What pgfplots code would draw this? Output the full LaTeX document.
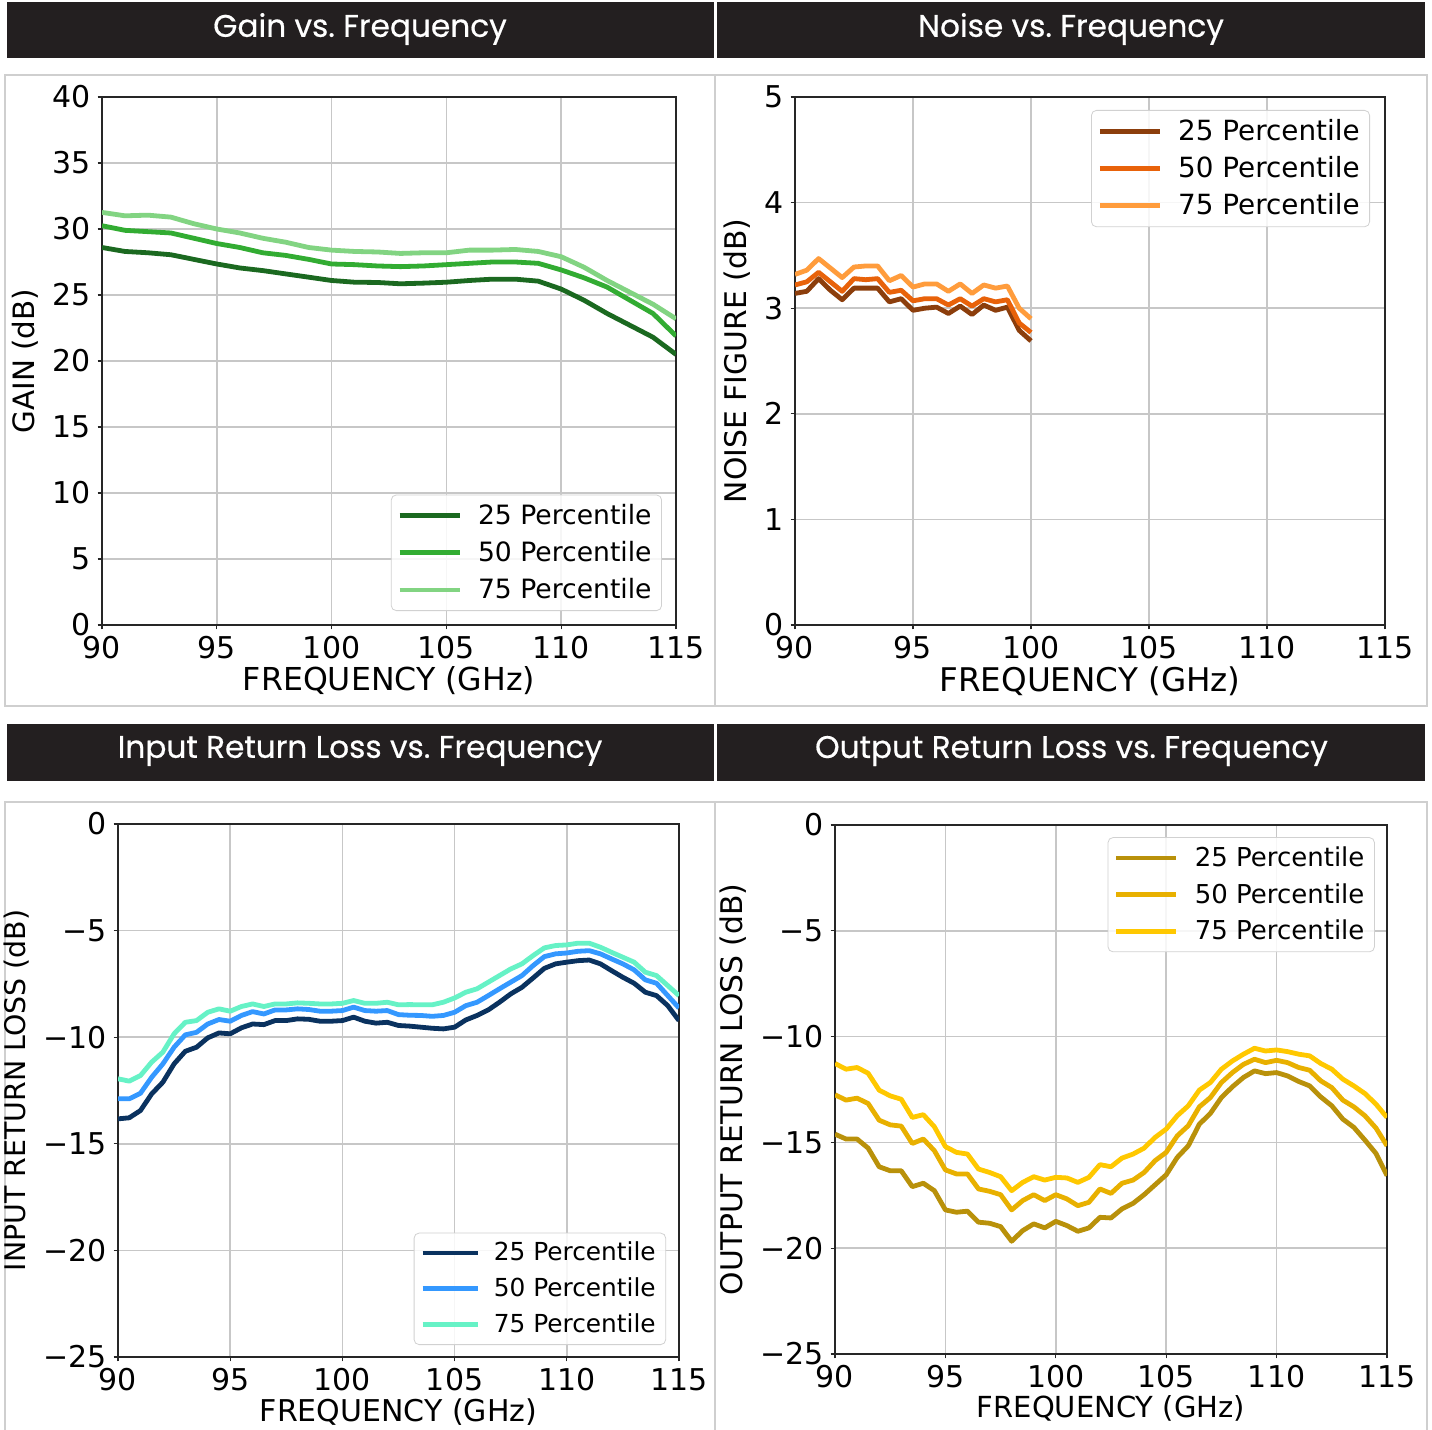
\documentclass[border=0pt]{standalone}
\usepackage{fontspec}
\setmainfont{DejaVu Sans}
\newfontfamily\titlefont{Poppins}[FakeBold=0.5]
\usepackage{pgfplots}
\usepackage{pgfplotstable}
\pgfplotsset{compat=1.18}

\definecolor{titlebg}{HTML}{231F20}
\definecolor{framegray}{HTML}{CFCFCF}
% gain
\definecolor{ga}{RGB}{27,105,32}
\definecolor{gb}{RGB}{50,172,50}
\definecolor{gc}{RGB}{130,212,130}
% noise
\definecolor{na}{RGB}{140,62,12}
\definecolor{nb}{RGB}{232,98,10}
\definecolor{nc}{RGB}{255,156,60}
% input return loss
\definecolor{ia}{RGB}{10,50,95}
\definecolor{ib}{RGB}{52,152,255}
\definecolor{ic}{RGB}{102,242,198}
% output return loss
\definecolor{oa}{RGB}{185,145,10}
\definecolor{ob}{RGB}{232,176,0}
\definecolor{oc}{RGB}{255,200,0}

\pgfplotstableread{
f p25 p50 p75
90 28.6 30.25 31.26
91 28.3 29.9 31.0
92 28.2 29.8 31.05
93 28.05 29.7 30.9
94 27.7 29.3 30.4
95 27.35 28.9 30.0
96 27.05 28.6 29.7
97 26.85 28.2 29.3
98 26.6 28.0 29.0
99 26.35 27.7 28.6
100 26.1 27.35 28.4
101 25.97 27.3 28.3
102 25.95 27.2 28.26
103 25.85 27.15 28.15
104 25.9 27.2 28.2
105 25.97 27.3 28.2
106 26.1 27.4 28.4
107 26.2 27.5 28.4
108 26.2 27.5 28.45
109 26.05 27.4 28.3
110 25.45 26.9 27.9
111 24.6 26.3 27.1
112 23.6 25.6 26.1
113 22.7 24.6 25.2
114 21.8 23.6 24.3
115 20.5 21.9 23.2
}\gaintab

\pgfplotstableread{
f p25 p50 p75
90 3.14 3.22 3.32
90.5 3.16 3.25 3.36
91 3.28 3.34 3.47
91.5 3.17 3.25 3.38
92 3.08 3.16 3.29
92.5 3.19 3.28 3.39
93 3.19 3.27 3.40
93.5 3.19 3.28 3.40
94 3.06 3.15 3.26
94.5 3.09 3.17 3.31
95 2.98 3.07 3.20
95.5 3.00 3.09 3.23
96 3.01 3.09 3.23
96.5 2.95 3.03 3.16
97 3.02 3.09 3.23
97.5 2.94 3.02 3.14
98 3.03 3.09 3.22
98.5 2.98 3.06 3.19
99 3.01 3.08 3.21
99.5 2.79 2.86 3.00
100 2.69 2.77 2.90
}\noisetab

\pgfplotstableread{
f p25 p50 p75
90 -13.83 -12.89 -11.95
90.5 -13.78 -12.89 -12.06
91 -13.44 -12.63 -11.80
91.5 -12.66 -11.88 -11.17
92 -12.11 -11.25 -10.70
92.5 -11.25 -10.47 -9.84
93 -10.66 -9.89 -9.30
93.5 -10.47 -9.77 -9.22
94 -10.03 -9.38 -8.83
94.5 -9.80 -9.17 -8.67
95 -9.84 -9.25 -8.78
95.5 -9.56 -8.98 -8.56
96 -9.38 -8.80 -8.44
96.5 -9.41 -8.91 -8.56
97 -9.22 -8.72 -8.44
97.5 -9.22 -8.72 -8.44
98 -9.14 -8.67 -8.39
98.5 -9.16 -8.70 -8.41
99 -9.25 -8.78 -8.44
99.5 -9.25 -8.78 -8.44
100 -9.22 -8.75 -8.41
100.5 -9.06 -8.59 -8.28
101 -9.25 -8.75 -8.41
101.5 -9.34 -8.78 -8.41
102 -9.30 -8.75 -8.36
102.5 -9.45 -8.94 -8.48
103 -9.48 -8.97 -8.47
103.5 -9.53 -8.98 -8.48
104 -9.58 -9.02 -8.48
104.5 -9.61 -8.98 -8.36
105 -9.53 -8.83 -8.16
105.5 -9.19 -8.52 -7.89
106 -8.98 -8.36 -7.73
106.5 -8.72 -8.05 -7.42
107 -8.36 -7.73 -7.11
107.5 -7.97 -7.42 -6.80
108 -7.66 -7.11 -6.56
108.5 -7.22 -6.64 -6.17
109 -6.77 -6.22 -5.81
109.5 -6.56 -6.09 -5.70
110 -6.48 -6.05 -5.67
110.5 -6.41 -5.97 -5.59
111 -6.38 -5.94 -5.59
111.5 -6.56 -6.09 -5.78
112 -6.88 -6.33 -6.02
112.5 -7.19 -6.56 -6.25
113 -7.47 -6.84 -6.48
113.5 -7.89 -7.31 -6.95
114 -8.05 -7.47 -7.11
114.5 -8.52 -8.05 -7.58
115 -9.22 -8.63 -8.05
}\inputtab

\pgfplotstableread{
f p25 p50 p75
90 -14.61 -12.75 -11.27
90.5 -14.84 -13.00 -11.54
91 -14.84 -12.91 -11.46
91.5 -15.27 -13.16 -11.73
92 -16.15 -13.95 -12.53
92.5 -16.34 -14.17 -12.80
93 -16.34 -14.23 -12.96
93.5 -17.09 -15.05 -13.82
94 -16.93 -14.84 -13.69
94.5 -17.28 -15.39 -14.26
95 -18.19 -16.30 -15.20
95.5 -18.30 -16.49 -15.47
96 -18.25 -16.49 -15.55
96.5 -18.77 -17.20 -16.26
97 -18.82 -17.31 -16.42
97.5 -18.98 -17.47 -16.62
98 -19.67 -18.19 -17.28
98.5 -19.17 -17.75 -16.89
99 -18.85 -17.47 -16.62
99.5 -19.04 -17.75 -16.78
100 -18.73 -17.47 -16.65
100.5 -18.93 -17.67 -16.68
101 -19.20 -17.99 -16.89
101.5 -19.04 -17.83 -16.65
102 -18.54 -17.20 -16.05
102.5 -18.57 -17.41 -16.15
103 -18.14 -16.93 -15.74
103.5 -17.88 -16.78 -15.55
104 -17.47 -16.42 -15.27
104.5 -17.00 -15.86 -14.76
105 -16.53 -15.47 -14.37
105.5 -15.71 -14.69 -13.74
106 -15.16 -14.21 -13.27
106.5 -14.14 -13.32 -12.53
107 -13.63 -12.88 -12.17
107.5 -12.88 -12.17 -11.54
108 -12.37 -11.70 -11.15
108.5 -11.93 -11.31 -10.83
109 -11.62 -11.07 -10.55
109.5 -11.75 -11.23 -10.68
110 -11.70 -11.12 -10.63
110.5 -11.86 -11.23 -10.71
111 -12.12 -11.46 -10.83
111.5 -12.33 -11.59 -10.91
112 -12.85 -12.09 -11.27
112.5 -13.27 -12.41 -11.54
113 -13.90 -13.00 -12.01
113.5 -14.29 -13.32 -12.33
114 -14.89 -13.74 -12.69
114.5 -15.52 -14.32 -13.19
115 -16.57 -15.16 -13.82
}\outputtab

\pgfplotsset{
  panel/.style={
    scale only axis,
    anchor=south west,
    xmin=90, xmax=115,
    xtick={90,95,...,115},
    grid=major,
    grid style={line width=0.8pt, black!22},
    axis line style={line width=0.6pt, black!85},
    tick style={line width=0.6pt, black!85},
    tick align=outside,
    major tick length=2.2pt,
    tick pos=left,
    tick label style={font=\fontsize{15}{17}\selectfont},
    /pgf/number format/assume math mode=true,
    xlabel={FREQUENCY (GHz)},
    xlabel style={yshift=3pt},
    every axis plot/.append style={line width=2.4pt, line join=round},
    legend cell align=left,
    legend image code/.code={\draw[##1] (0pt,0pt) -- (30pt,0pt);},
    legend style={draw=black!18, rounded corners=2.5pt, fill=white,
      fill opacity=0.85, text opacity=1,
      font=\fontsize{13.3}{15}\selectfont,
      inner xsep=3pt, inner ysep=2.5pt, row sep=3pt,
      /tikz/every odd column/.append style={column sep=6pt}},
  },
  shortleg/.style={legend image code/.code={\draw[##1] (0pt,0pt) -- (27.5pt,0pt);}},
}

\begin{document}
\begin{tikzpicture}
\useasboundingbox (0pt,0pt) rectangle (716pt,-715pt);
\fill[white] (0pt,0pt) rectangle (716pt,-715pt);

% frames
\draw[framegray, line width=1pt] (2.5pt,-37.5pt) rectangle (713.5pt,-353pt);
\draw[framegray, line width=1pt] (357.5pt,-37.5pt) -- (357.5pt,-353pt);
\draw[framegray, line width=1pt] (2.5pt,-716pt) -- (2.5pt,-401pt) -- (713.5pt,-401pt) -- (713.5pt,-716pt);
\draw[framegray, line width=1pt] (357.5pt,-401pt) -- (357.5pt,-716pt);

% title bars
\fill[titlebg] (3.5pt,-1pt) rectangle (357pt,-29pt);
\fill[titlebg] (358.5pt,-1pt) rectangle (712.5pt,-29pt);
\fill[titlebg] (3.5pt,-362pt) rectangle (357pt,-390.5pt);
\fill[titlebg] (358.5pt,-362pt) rectangle (712.5pt,-390.5pt);
\tikzset{ttl/.style={text=white, font=\titlefont\fontsize{15.6}{18}\selectfont, anchor=center}}
\node[ttl] at (180pt,-14.5pt) {Gain vs.\ Frequency};
\node[ttl] at (535.5pt,-14.5pt) {Noise vs.\ Frequency};
\node[ttl] at (180pt,-375.5pt) {Input Return Loss vs.\ Frequency};
\node[ttl] at (535.75pt,-375.5pt) {Output Return Loss vs.\ Frequency};

% gain
\begin{axis}[panel, at={(51pt,-312.5pt)}, width=287pt, height=264pt,
  ymin=0, ymax=40, ytick={0,5,...,40}, ylabel={GAIN (dB)},
  xlabel style={font=\fontsize{15.8}{17}\selectfont},
  ylabel style={font=\fontsize{14.7}{17}\selectfont},
  legend style={at={(0.9756,0.0265)}, anchor=south east}]
\addplot[ga] table[x=f,y=p25] {\gaintab};
\addlegendentry{25 Percentile}
\addplot[gb] table[x=f,y=p50] {\gaintab};
\addlegendentry{50 Percentile}
\addplot[gc] table[x=f,y=p75] {\gaintab};
\addlegendentry{75 Percentile}
\end{axis}

% noise
\begin{axis}[panel, at={(397.5pt,-312.5pt)}, width=295pt, height=264pt,
  ymin=0, ymax=5, ytick={0,1,...,5}, ylabel={NOISE FIGURE (dB)},
  xlabel style={font=\fontsize{16.3}{17}\selectfont},
  ylabel style={font=\fontsize{14.9}{17}\selectfont},
  legend style={at={(0.9746,0.9754)}, anchor=north east,
    font=\fontsize{13.9}{15}\selectfont, row sep=2.5pt}]
\addplot[na] table[x=f,y=p25] {\noisetab};
\addlegendentry{25 Percentile}
\addplot[nb] table[x=f,y=p50] {\noisetab};
\addlegendentry{50 Percentile}
\addplot[nc] table[x=f,y=p75] {\noisetab};
\addlegendentry{75 Percentile}
\end{axis}

% input return loss
\begin{axis}[panel, shortleg, at={(59pt,-678.5pt)}, width=280.5pt, height=266.5pt,
  ymin=-25, ymax=0, ytick={-25,-20,...,0},
  yticklabels={−25,−20,−15,−10,−5,0}, ylabel={INPUT RETURN LOSS (dB)},
  xlabel style={font=\fontsize{15}{17}\selectfont},
  ylabel style={font=\fontsize{14.2}{17}\selectfont},
  legend style={at={(0.977,0.0225)}, anchor=south east,
    font=\fontsize{12.4}{14}\selectfont, row sep=3pt,
    /tikz/every odd column/.append style={column sep=5pt}}]
\addplot[ia] table[x=f,y=p25] {\inputtab};
\addlegendentry{25 Percentile}
\addplot[ib] table[x=f,y=p50] {\inputtab};
\addlegendentry{50 Percentile}
\addplot[ic] table[x=f,y=p75] {\inputtab};
\addlegendentry{75 Percentile}
\end{axis}

% output return loss
\begin{axis}[panel, at={(417.5pt,-677pt)}, width=276pt, height=264.5pt,
  ymin=-25, ymax=0, ytick={-25,-20,...,0},
  yticklabels={−25,−20,−15,−10,−5,0}, ylabel={OUTPUT RETURN LOSS (dB)},
  xlabel style={font=\fontsize{14.5}{17}\selectfont},
  ylabel style={font=\fontsize{14.9}{17}\selectfont},
  legend style={at={(0.978,0.977)}, anchor=north east,
    font=\fontsize{13}{15}\selectfont}]
\addplot[oa] table[x=f,y=p25] {\outputtab};
\addlegendentry{25 Percentile}
\addplot[ob] table[x=f,y=p50] {\outputtab};
\addlegendentry{50 Percentile}
\addplot[oc] table[x=f,y=p75] {\outputtab};
\addlegendentry{75 Percentile}
\end{axis}
\end{tikzpicture}
\end{document}
